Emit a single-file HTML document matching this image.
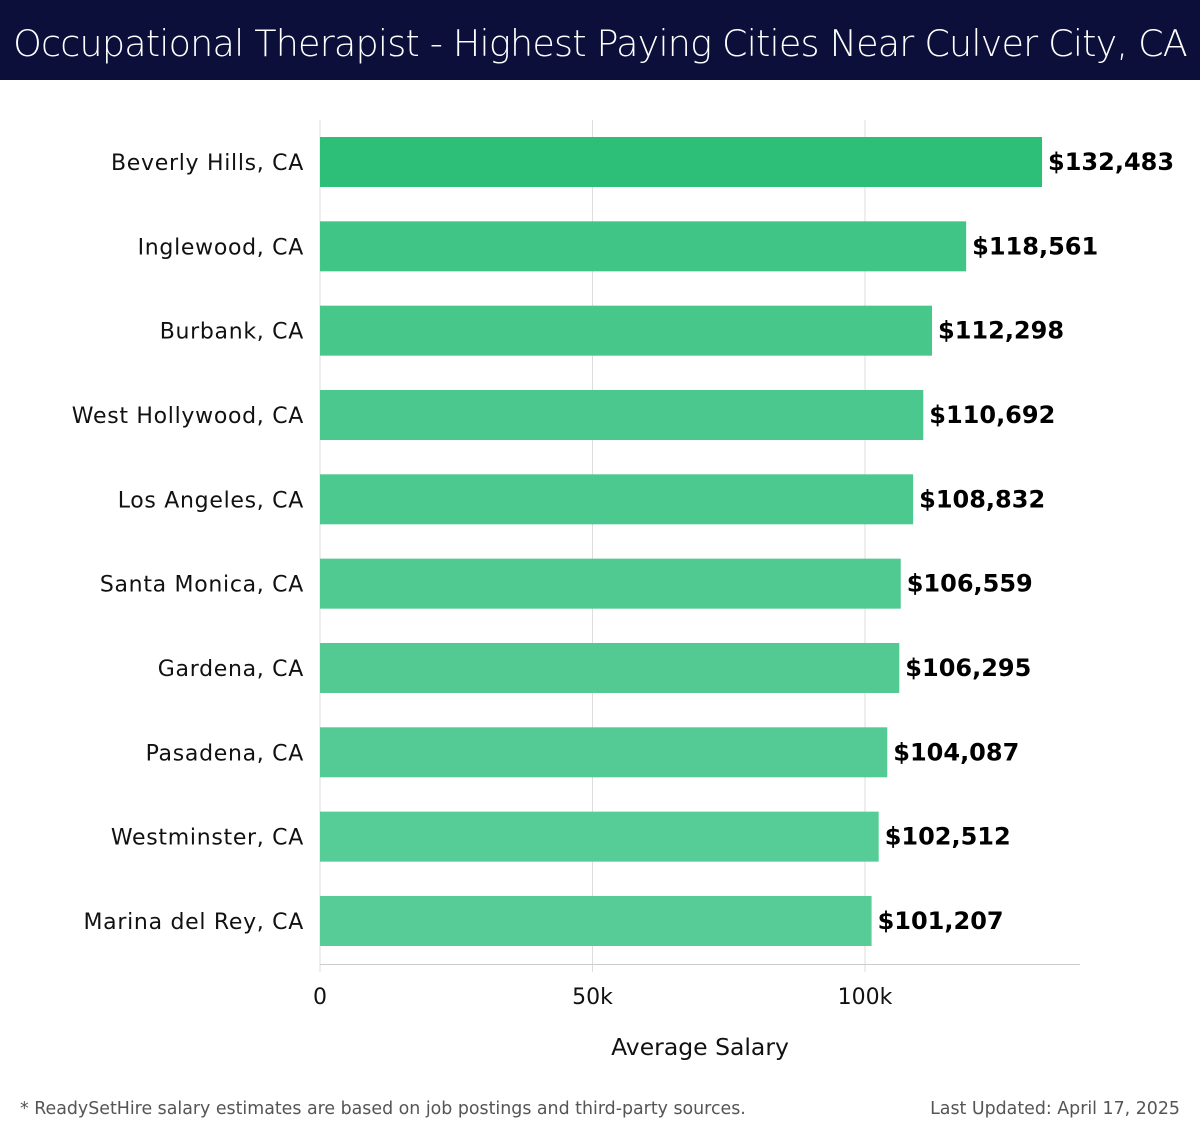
<!DOCTYPE html>
<html><head><meta charset="utf-8"><style>
body{margin:0;width:1200px;height:1140px;background:#fff;font-family:"DejaVu Sans","Liberation Sans",sans-serif;overflow:hidden;position:relative}
#title{position:absolute;left:0;top:0;width:1200px;height:80px;background:#0c0f3a;color:#fff;font-size:36.5px;line-height:88px;text-align:center;font-family:"DejaVu Sans","Liberation Sans",sans-serif;font-weight:300;letter-spacing:-0.8px;white-space:nowrap}
.foot{position:absolute;top:1099px;font-size:17.4px;color:#555;white-space:nowrap}
</style></head><body>
<div id="title">Occupational Therapist - Highest Paying Cities Near Culver City, CA</div>
<svg id="chart" width="1200" height="1140" style="position:absolute;left:0;top:0"></svg>
<div class="foot" style="left:20px">* ReadySetHire salary estimates are based on job postings and third-party sources.</div>
<div class="foot" style="right:20px">Last Updated: April 17, 2025</div>
<script>
const categories=["Beverly Hills, CA","Inglewood, CA","Burbank, CA","West Hollywood, CA","Los Angeles, CA","Santa Monica, CA","Gardena, CA","Pasadena, CA","Westminster, CA","Marina del Rey, CA"];
const values=[132483,118561,112298,110692,108832,106559,106295,104087,102512,101207];
const colors=["#2dbf78","#40c587","#48c78b","#4ac88d","#4cc98f","#50ca91","#52ca92","#54cb94","#56cc96","#58cc97"];
const tickValues=[0,50000,100000];
const tickLabels=["0","50k","100k"];
const ns="http://www.w3.org/2000/svg";
const svg=document.getElementById('chart');
const x=v=>320+v*(545/100000);
const yc=i=>162+i*84.33;
function mk(t,a){const e=document.createElementNS(ns,t);for(const k in a)e.setAttribute(k,a[k]);svg.appendChild(e);return e;}
tickValues.forEach((t,i)=>{
 const g=mk('line',{x1:x(t),x2:x(t),y1:120,y2:972,stroke:'#dddddd','stroke-width':1});
 
 
 const l=mk('text',{x:x(t),y:1004,'text-anchor':'middle','font-size':22,fill:'#111'});
 l.textContent=tickLabels[i];
 
 
});
const ax=mk('line',{x1:320,x2:1080,y1:964.5,y2:964.5,stroke:'#ccc','stroke-width':1});


categories.forEach((c,i)=>{
 const r=mk('rect',{x:320,y:yc(i)-25,width:x(values[i])-320,height:50,fill:colors[i]});
 
 
 const t=mk('text',{x:304,y:yc(i)+8,'text-anchor':'end','font-size':22,'letter-spacing':'0.7',fill:'#111'});
 t.textContent=c;
 
 
 const v=mk('text',{x:x(values[i])+6,y:yc(i)+8,'font-size':24,'font-weight':'bold',fill:'#000'});
 v.textContent='$'+values[i].toLocaleString('en-US');
 
 
});
const at=mk('text',{x:700,y:1055,'text-anchor':'middle','font-size':23.5,fill:'#111'});
at.textContent='Average Salary';


</script>
</body></html>
